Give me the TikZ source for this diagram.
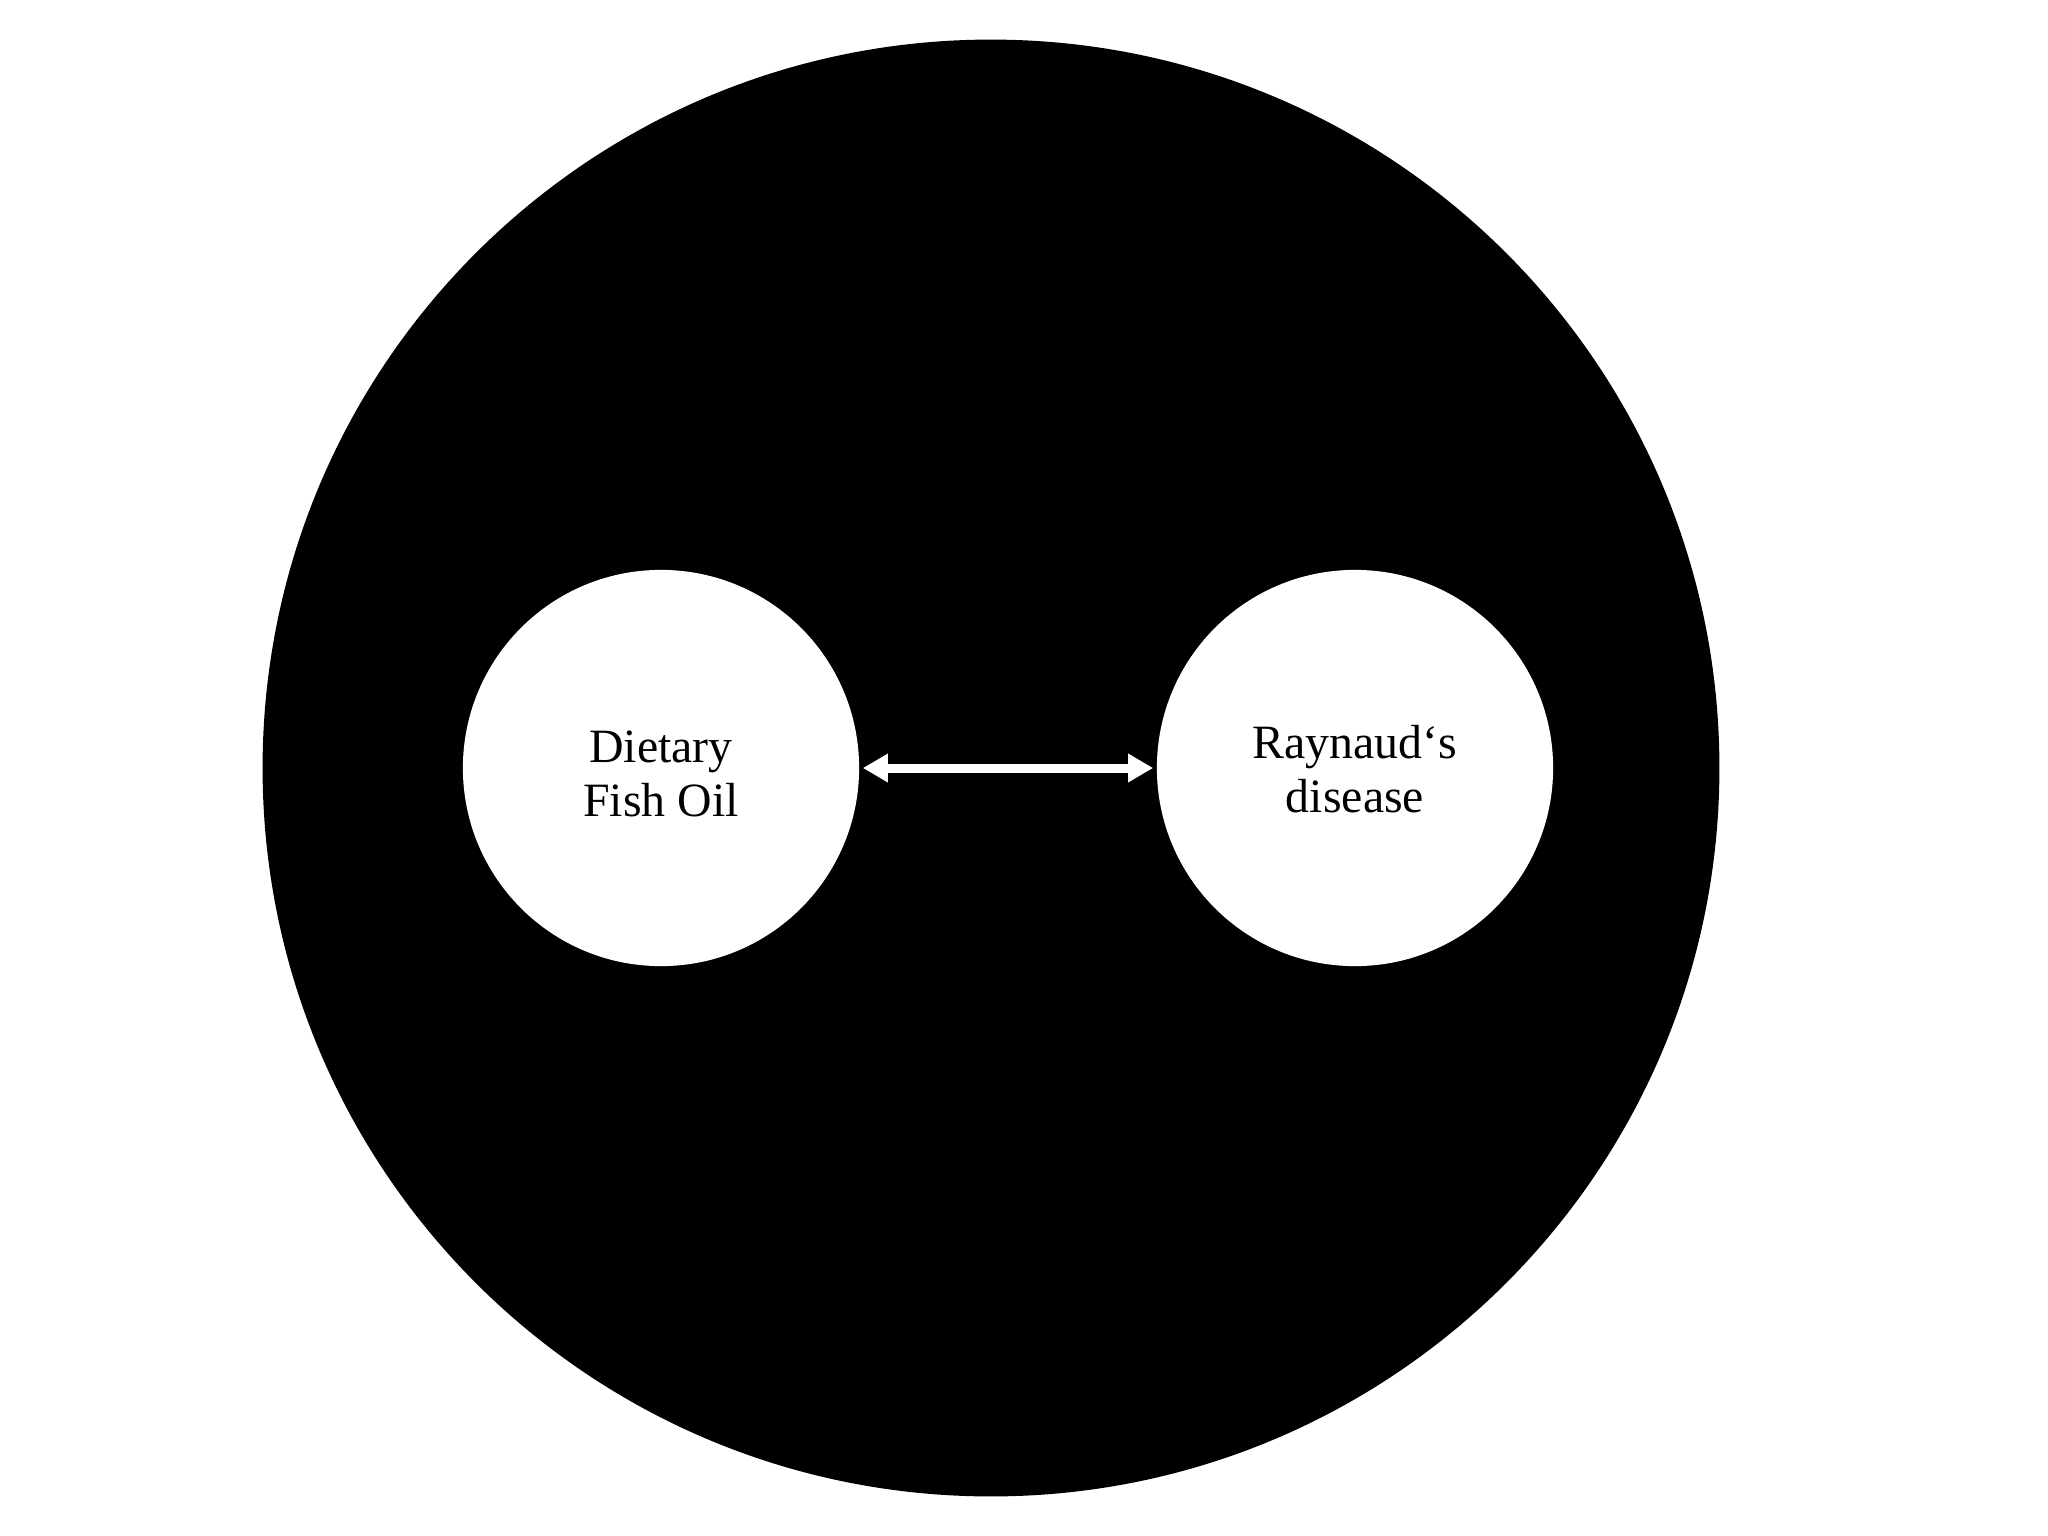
\documentclass[tikz,border=0pt]{standalone}
\usepackage{fontspec}
\setmainfont{Liberation Serif}
\usetikzlibrary{arrows.meta}
\begin{document}
\begin{tikzpicture}[x=0.01cm,y=-0.01cm,
  bigdisc/.style={circle,fill=black,draw=none,minimum size=14.56cm,inner sep=0pt},
  smalldisc/.style={circle,fill=white,draw=none,minimum size=3.96cm,inner sep=0pt},
  lbl/.style={inner sep=0pt,align=center,font=\fontsize{13.6}{15.5}\selectfont},
  link/.style={draw=white,line width=0.09cm,{Triangle[length=0.25cm,width=0.27cm]}-{Triangle[length=0.25cm,width=0.27cm]},shorten <=0.03cm,shorten >=0.03cm}]
\useasboundingbox (0,0) rectangle (2048,1536);
\node[bigdisc] (outer) at (991,768) {};
\node[smalldisc] (fish) at (661,768) {};
\node[smalldisc] (ray) at (1355,768) {};
\node[lbl] (fishlbl) at (661,774) {Dietary\\Fish Oil};
\node[lbl] (raylbl) at (1355,769) {Raynaud‘s\\disease};
\draw[link] (fish) -- (ray);
\end{tikzpicture}
\end{document}
